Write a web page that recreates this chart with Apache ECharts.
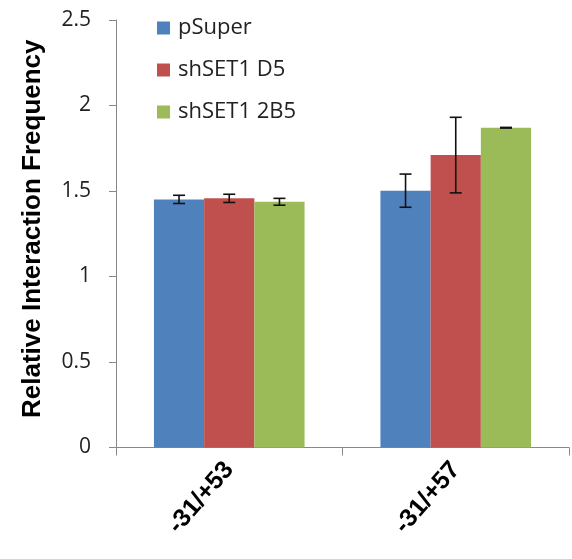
<!DOCTYPE html>
<html>
<head>
<meta charset="utf-8">
<script src="https://cdn.jsdelivr.net/npm/echarts@6/dist/echarts.min.js"></script>
<style>
  html, body { margin: 0; padding: 0; background: #fff; }
  #container { width: 572px; height: 559px; }
</style>
</head>
<body>
<div id="container"></div>
<script>
/* 数据 */
var categories = ['-31/+53', '-31/+57'];
var seriesNames = ['pSuper', 'shSET1 D5', 'shSET1 2B5'];
var pSuper = [1.451, 1.502];
var shD5 = [1.457, 1.710];
var sh2B5 = [1.437, 1.870];
var pSuperErr = [0.024, 0.097];
var shD5Err = [0.024, 0.221];
var sh2B5Err = [0.020, 0.002];
var yTicks = [0, 0.5, 1, 1.5, 2, 2.5];

var colors = ['#4F81BD', '#C0504D', '#9BBB59'];
var values = [pSuper, shD5, sh2B5];
var errors = [pSuperErr, shD5Err, sh2B5Err];
var gapRatio = 0.335;

/* 误差线 */
function errorSeries(idx) {
    var data = [];
    for (var i = 0; i < categories.length; i++) {
        data.push([i, values[idx][i] - errors[idx][i], values[idx][i] + errors[idx][i]]);
    }
    return {
        type: 'custom',
        name: seriesNames[idx] + ' err',
        data: data,
        z: 10,
        silent: true,
        renderItem: function (params, api) {
            var catW = api.size([1, 0])[0];
            var barW = catW * (1 - gapRatio) / 3;
            var off = (idx - 1) * barW;
            var lo = api.coord([api.value(0), api.value(1)]);
            var hi = api.coord([api.value(0), api.value(2)]);
            var x = lo[0] + off;
            var cap = 6;
            var st = { stroke: '#111', lineWidth: 1.6 };
            return {
                type: 'group',
                children: [
                    { type: 'line', shape: { x1: x, y1: lo[1], x2: x, y2: hi[1] }, style: st },
                    { type: 'line', shape: { x1: x - cap, y1: lo[1], x2: x + cap, y2: lo[1] }, style: st },
                    { type: 'line', shape: { x1: x - cap, y1: hi[1], x2: x + cap, y2: hi[1] }, style: st }
                ]
            };
        }
    };
}

var series = [];
for (var s = 0; s < 3; s++) {
    series.push({
        name: seriesNames[s],
        type: 'bar',
        data: values[s],
        barGap: '0%',
        barCategoryGap: (gapRatio * 100) + '%',
        itemStyle: { color: colors[s] }
    });
}
for (var e = 0; e < 3; e++) {
    series.push(errorSeries(e));
}

var dom = document.getElementById('container');
var myChart = echarts.init(dom);

var option = {
    animation: false,
    grid: { left: 116, right: 3, top: 20, bottom: 111.5 },
    legend: {
        orient: 'vertical',
        left: 152,
        top: 12,
        itemWidth: 13,
        itemHeight: 13,
        itemGap: 20,
        icon: 'rect',
        data: seriesNames,
        textStyle: { fontFamily: 'Open Sans', fontSize: 22, color: '#222', padding: [0, 0, 0, 3] }
    },
    xAxis: {
        type: 'category',
        data: categories,
        axisLine: { lineStyle: { color: '#888', width: 1 } },
        axisTick: { show: true, length: 8, lineStyle: { color: '#888' } },
        axisLabel: {
            rotate: 49,
            margin: 18,
            fontFamily: 'Liberation Sans',
            fontWeight: 'bold',
            fontSize: 25,
            color: '#000'
        }
    },
    yAxis: {
        type: 'value',
        min: yTicks[0],
        max: yTicks[yTicks.length - 1],
        interval: 0.5,
        name: 'Relative Interaction Frequency',
        nameLocation: 'middle',
        nameGap: 70,
        nameTextStyle: {
            fontFamily: 'Liberation Sans',
            fontWeight: 'bold',
            fontSize: 26,
            color: '#000',
            padding: [0, 0, 0, 10]
        },
        splitLine: { show: false },
        axisLine: { show: true, lineStyle: { color: '#888', width: 1 } },
        axisTick: { show: true, length: 7, lineStyle: { color: '#888' } },
        axisLabel: {
            margin: 25,
            fontFamily: 'Open Sans',
            fontSize: 21,
            color: '#222'
        }
    },
    series: series
};

myChart.setOption(option, true);
</script>
</body>
</html>
